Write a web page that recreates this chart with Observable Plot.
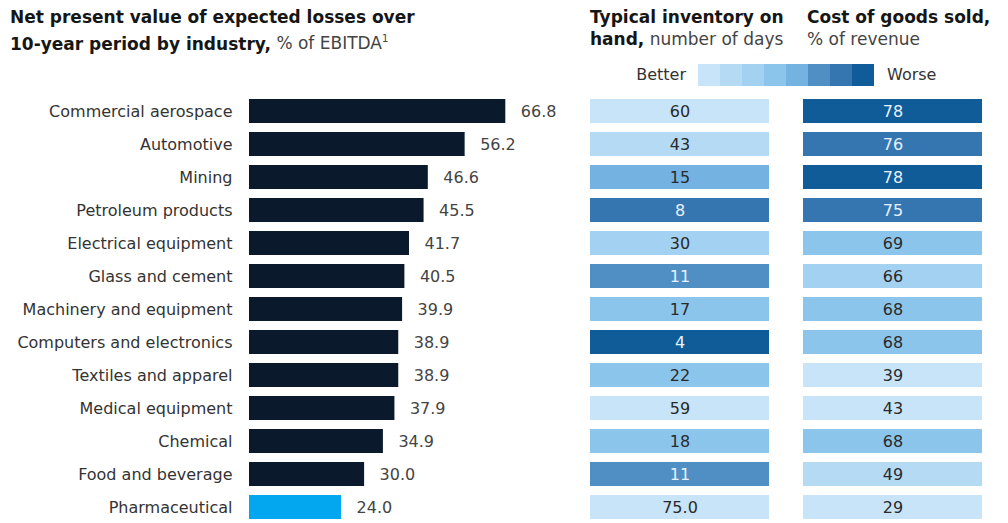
<!DOCTYPE html>
<html>
<head>
<meta charset="utf-8">
<script src="https://cdn.jsdelivr.net/npm/d3@7"></script>
<script src="https://cdn.jsdelivr.net/npm/@observablehq/plot@0.6"></script>
<style>
  html, body { margin: 0; padding: 0; background: #fff; overflow: hidden; }
  #root { position: relative; width: 1008px; height: 523px; font-family: "DejaVu Sans", sans-serif; color: #333; }
  .abs { position: absolute; }
  .title { font-size: 17px; line-height: 21.5px; color: #1c1c1c; }
  .title b { font-weight: bold; color: #161616; }
  .title span { font-weight: normal; color: #444; }
  .leg { font-size: 16px; color: #333; line-height: 22px; }
</style>
</head>
<body>
<div id="root">
  <div class="abs title" style="left:10px; top:7px; white-space:nowrap;">
    <b>Net present value of expected losses over</b><br>
    <b>10-year period by industry,</b> <span>% of EBITDA<sup style="font-size:10px">1</sup></span>
  </div>
  <div class="abs title" style="left:590px; top:7px; white-space:nowrap;">
    <b>Typical inventory on</b><br>
    <b>hand,</b> <span>number of days</span>
  </div>
  <div class="abs title" style="left:807px; top:7px; white-space:nowrap;">
    <b>Cost of goods sold,</b><br>
    <span>% of revenue</span>
  </div>
  <div class="abs leg" style="left:600px; width:86px; text-align:right; top:64px;">Better</div>
  <div class="abs leg" style="left:887px; top:64px;">Worse</div>
</div>
<script>
const industries = [
  "Commercial aerospace", "Automotive", "Mining", "Petroleum products",
  "Electrical equipment", "Glass and cement", "Machinery and equipment",
  "Computers and electronics", "Textiles and apparel", "Medical equipment",
  "Chemical", "Food and beverage", "Pharmaceutical"
];
const losses = [66.8, 56.2, 46.6, 45.5, 41.7, 40.5, 39.9, 38.9, 38.9, 37.9, 34.9, 30.0, 24.0];
const highlighted = ["Pharmaceutical"];
const inventoryDays = [60, 43, 15, 8, 30, 11, 17, 4, 22, 59, 18, 11, 75];
const inventoryLabels = ["60", "43", "15", "8", "30", "11", "17", "4", "22", "59", "18", "11", "75.0"];
const inventoryShade = [0, 1, 4, 6, 2, 5, 3, 7, 3, 0, 3, 5, 0];
const cogsPct = [78, 76, 78, 75, 69, 66, 68, 68, 39, 43, 68, 49, 29];
const cogsShade = [7, 6, 7, 6, 3, 2, 3, 3, 0, 0, 3, 1, 0];
const shadeLevels = [0, 1, 2, 3, 4, 5, 6, 7];
const shadeColors = ["#c8e4f8", "#b5dbf4", "#a2d1f1", "#8cc5ec", "#74b2e1", "#4f8fc4", "#3676b0", "#0f5c98"];
const metrics = ["Inventory", "COGS"];

const root = document.getElementById("root");
const FONT = "DejaVu Sans, sans-serif";
const H = 523;
const yScale = {domain: industries, paddingInner: 0.27, paddingOuter: 0.1};

const bars = industries.map((name, i) => ({industry: name, value: losses[i], hi: highlighted.includes(name)}));

const barPlot = Plot.plot({
  width: 600,
  height: H,
  marginLeft: 249,
  marginRight: 600 - 505.3,
  marginTop: 96,
  marginBottom: 0,
  style: {fontFamily: FONT, fontSize: "16px", color: "#333", background: "transparent"},
  x: {domain: [0, 66.8], axis: null},
  y: {...yScale, axis: null},
  marks: [
    Plot.barX(bars, {x: "value", y: "industry", fill: d => d.hi ? "#03a7f0" : "#0a1a2c"}),
    Plot.text(bars, {x: "value", y: "industry", text: d => d.value.toFixed(1), textAnchor: "start", dx: 15, fontSize: 16, fill: "#444"}),
    Plot.axisY({tickSize: 0, tickPadding: 17, fontSize: 16, label: null, fill: "#333"})
  ]
});
barPlot.style.position = "absolute";
barPlot.style.left = "0px";
barPlot.style.top = "0px";
root.appendChild(barPlot);

const cells = [];
industries.forEach((name, i) => {
  cells.push({industry: name, metric: "Inventory", value: inventoryDays[i], label: inventoryLabels[i], level: inventoryShade[i]});
  cells.push({industry: name, metric: "COGS", value: cogsPct[i], label: String(cogsPct[i]), level: cogsShade[i]});
});

const colorScale = {type: "ordinal", domain: shadeLevels, range: shadeColors};

const heatPlot = Plot.plot({
  width: 1008,
  height: H,
  marginLeft: 589,
  marginRight: 1008 - 982.3,
  marginTop: 96,
  marginBottom: 0,
  style: {fontFamily: FONT, fontSize: "16px", background: "transparent"},
  x: {domain: metrics, paddingInner: 0.161, paddingOuter: 0, axis: null},
  y: {...yScale, axis: null},
  color: colorScale,
  marks: [
    Plot.cell(cells, {x: "metric", y: "industry", fill: "level"}),
    Plot.text(cells, {filter: d => d.level < 5, x: "metric", y: "industry", text: "label", fontSize: 16, fill: "#2a2a2a"}),
    Plot.text(cells, {filter: d => d.level >= 5, x: "metric", y: "industry", text: "label", fontSize: 16, fill: "#e8f1fa"})
  ]
});
heatPlot.style.position = "absolute";
heatPlot.style.left = "0px";
heatPlot.style.top = "0px";
root.appendChild(heatPlot);

const legendPlot = Plot.plot({
  width: 178,
  height: 22,
  margin: 0,
  style: {background: "transparent"},
  x: {domain: shadeLevels, padding: 0, axis: null},
  color: colorScale,
  marks: [
    Plot.cell(shadeLevels, {x: d => d, fill: d => d})
  ]
});
legendPlot.style.position = "absolute";
legendPlot.style.left = "697px";
legendPlot.style.top = "64px";
root.appendChild(legendPlot);
</script>
</body>
</html>
